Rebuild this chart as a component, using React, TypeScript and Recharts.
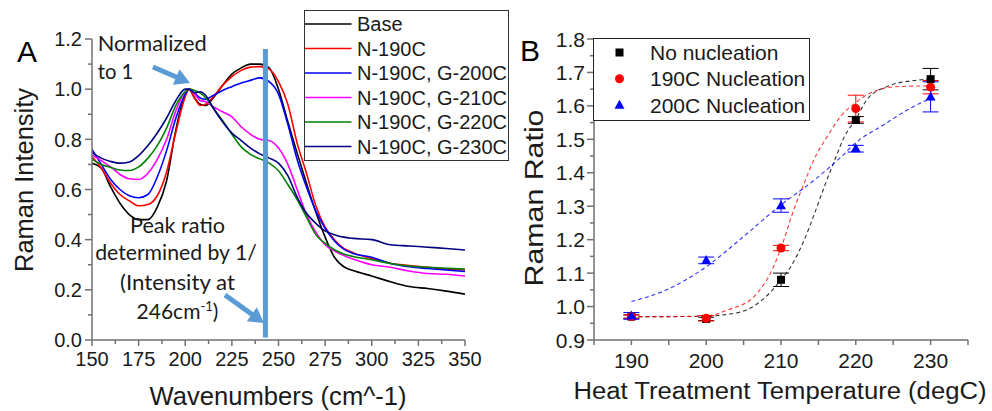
import React from 'react';
import { LineChart, Line, XAxis, YAxis, ReferenceLine, ComposedChart, Scatter, ErrorBar } from 'recharts';

// ---------- Panel A data ----------
const wavenumbers = [150,155,160,165,170,175,180,185,190,195,200,202,205,208,211,215,220,225,230,235,240,245,250,255,260,265,270,275,280,285,290,300,310,320,330,340,350];
const base =      [0.705,0.685,0.61,0.545,0.50,0.48,0.48,0.53,0.635,0.84,0.98,1.0,0.965,0.94,0.935,0.965,1.015,1.06,1.085,1.10,1.10,1.085,1.0,0.87,0.745,0.625,0.51,0.41,0.33,0.292,0.277,0.255,0.232,0.213,0.205,0.195,0.183];
const n190 =      [0.73,0.685,0.625,0.58,0.555,0.535,0.54,0.575,0.67,0.83,0.97,1.0,0.965,0.935,0.94,0.97,1.015,1.05,1.075,1.088,1.09,1.08,1.03,0.94,0.785,0.665,0.535,0.45,0.40,0.365,0.348,0.325,0.306,0.297,0.29,0.283,0.279];
const n190g200 =  [0.76,0.70,0.64,0.60,0.575,0.567,0.58,0.65,0.755,0.885,0.98,1.0,0.985,0.965,0.96,0.975,0.995,1.01,1.025,1.035,1.045,1.03,0.98,0.86,0.72,0.61,0.515,0.445,0.395,0.362,0.345,0.33,0.305,0.292,0.285,0.279,0.273];
const n190g210 =  [0.738,0.715,0.69,0.66,0.643,0.64,0.665,0.72,0.80,0.915,0.99,1.0,0.98,0.955,0.95,0.93,0.91,0.89,0.85,0.82,0.80,0.795,0.765,0.70,0.60,0.50,0.43,0.38,0.355,0.337,0.323,0.30,0.29,0.275,0.265,0.262,0.255];
const n190g220 =  [0.72,0.70,0.688,0.678,0.676,0.69,0.725,0.775,0.845,0.935,0.99,1.0,0.995,0.985,0.965,0.925,0.875,0.82,0.77,0.74,0.722,0.705,0.675,0.62,0.56,0.49,0.42,0.385,0.36,0.343,0.333,0.32,0.305,0.295,0.29,0.286,0.283];
const n190g230 =  [0.747,0.725,0.712,0.705,0.71,0.735,0.775,0.825,0.885,0.955,1.0,1.0,0.985,0.99,0.975,0.925,0.87,0.825,0.795,0.765,0.742,0.725,0.705,0.655,0.57,0.505,0.465,0.435,0.42,0.41,0.405,0.40,0.38,0.375,0.37,0.365,0.359];

const seriesNamesA = ['Base','N-190C','N-190C, G-200C','N-190C, G-210C','N-190C, G-220C','N-190C, G-230C'];
const seriesKeysA = ['base','n190','n190g200','n190g210','n190g220','n190g230'];
const seriesColorsA = ['#000000','#ff0000','#0000ff','#ff00ff','#008000','#000080'];

const xMajorA = [150,175,200,225,250,275,300,325,350];
const xMinorA = [162.5,187.5,212.5,237.5,262.5,287.5,312.5,337.5];
const yMajorA = [0,0.2,0.4,0.6,0.8,1.0,1.2];
const yMinorA = [0.1,0.3,0.5,0.7,0.9,1.1];
const markerLineX = 243;

// ---------- Panel B data ----------
const temps = [190,200,210,220,230];
const noNuc = [0.97,0.963,1.08,1.558,1.68];
const noNucErr = [0.005,0.005,0.02,0.01,0.032];
const nuc190 = [0.97,0.965,1.175,1.592,1.656];
const nuc190Err = [0.005,0.008,0.008,0.04,0.02];
const nuc200 = [0.972,1.138,1.302,1.472,1.627];
const nuc200Err = [0.01,0.01,0.02,0.01,0.045];

const fitNoNucX = [190,195,200,202.3,205.4,208,210,211.3,213.1,214.5,215.8,217.2,218.5,220,221.5,224.2,227.8,230];
const fitNoNucY = [0.97,0.97,0.971,0.975,0.99,1.03,1.08,1.119,1.199,1.279,1.359,1.439,1.509,1.56,1.619,1.658,1.676,1.68];
const fit190X = [190,195,200,202.9,206.4,209,210,211.7,213.1,214.4,216.2,218,220,222,225.1,230];
const fit190Y = [0.97,0.97,0.972,0.99,1.03,1.119,1.175,1.289,1.369,1.439,1.509,1.569,1.61,1.639,1.657,1.66];
const fit200X = [190,194.7,200,204.5,210,214.5,218.1,220,223.4,227,230];
const fit200Y = [1.015,1.05,1.119,1.2,1.304,1.379,1.449,1.49,1.539,1.589,1.623];

const seriesNamesB = ['No nucleation','190C Nucleation','200C Nucleation'];
const seriesColorsB = ['#000000','#ff0000','#0000ff'];

const xMajorB = [190,200,210,220,230];
const xMinorB = [185,195,205,215,225,235];
const yMajorB = [0.9,1.0,1.1,1.2,1.3,1.4,1.5,1.6,1.7,1.8];
const yMinorB = [0.95,1.05,1.15,1.25,1.35,1.45,1.55,1.65,1.75];

// ---------- helpers ----------
const FONT = '"Liberation Sans", Arial, sans-serif';
const ANNO_FONT = 'Lato, "Open Sans", sans-serif';
const AXIS = '#707070';
const ANNO = '#5b9bd5';

const rowsA = wavenumbers.map((w, i) => ({
  w, base: base[i], n190: n190[i], n190g200: n190g200[i], n190g210: n190g210[i], n190g220: n190g220[i], n190g230: n190g230[i],
}));
const pts = (ys: number[], es: number[]) => temps.map((x, i) => ({ x, y: ys[i], e: es[i] }));
const fit = (xs: number[], ys: number[]) => xs.map((x, i) => ({ x, y: ys[i] }));

const isIn = (arr: number[], v: number) => arr.some((m) => Math.abs(m - v) < 1e-6);

const makeYTick = (majors: number[], fontSize: number, labelGap: number) => (props: any) => {
  const { x, y, payload } = props;
  const v = payload.value;
  const major = isIn(majors, v);
  return (
    <g>
      <line x1={x} x2={x - (major ? 7 : 4)} y1={y} y2={y} stroke={AXIS} strokeWidth={1.5} />
      {major && (
        <text x={x - labelGap} y={y} dy="0.36em" textAnchor="end" fontSize={fontSize} fontFamily={FONT} fill="#1a1a1a">
          {v.toFixed(1)}
        </text>
      )}
    </g>
  );
};
const makeXTick = (majors: number[], fontSize: number, baseline: number, majorLen: number, minorLen: number) => (props: any) => {
  const { x, y, payload } = props;
  const v = payload.value;
  const major = isIn(majors, v);
  return (
    <g>
      <line x1={x} x2={x} y1={y} y2={y + (major ? majorLen : minorLen)} stroke={AXIS} strokeWidth={1.5} />
      {major && (
        <text x={x} y={y + baseline} textAnchor="middle" fontSize={fontSize} fontFamily={FONT} fill="#1a1a1a">
          {String(v)}
        </text>
      )}
    </g>
  );
};

const sq = (color: string, s = 8) => (p: any) => <rect x={p.cx - s / 2} y={p.cy - s / 2} width={s} height={s} fill={color} />;
const circ = (color: string, r = 4.5) => (p: any) => <circle cx={p.cx} cy={p.cy} r={r} fill={color} />;
const tri = (color: string, w = 10, h = 9) => (p: any) => (
  <polygon points={`${p.cx},${p.cy - h * 0.6} ${p.cx + w / 2},${p.cy + h * 0.4} ${p.cx - w / 2},${p.cy + h * 0.4}`} fill={color} />
);
const shapesB = [sq, circ, tri];

function arrowPts(x1: number, y1: number, x2: number, y2: number, shaft = 5, headLen = 15, headW = 17) {
  const dx = x2 - x1, dy = y2 - y1, L = Math.hypot(dx, dy);
  const ux = dx / L, uy = dy / L, nx = -uy, ny = ux;
  const bx = x2 - ux * headLen, by = y2 - uy * headLen;
  const s = shaft / 2, h = headW / 2;
  const p = [
    [x1 + nx * s, y1 + ny * s], [bx + nx * s, by + ny * s], [bx + nx * h, by + ny * h], [x2, y2],
    [bx - nx * h, by - ny * h], [bx - nx * s, by - ny * s], [x1 - nx * s, y1 - ny * s],
  ];
  return p.map((q) => q.join(',')).join(' ');
}

export default function App() {
  const yTickA = makeYTick(yMajorA, 20, 10);
  const xTickA = makeXTick(xMajorA, 20, 26, 6, 4);
  const yTickB = makeYTick(yMajorB, 21, 9);
  const xTickB = makeXTick(xMajorB, 21, 28, 5, 5);
  const dataB = [pts(noNuc, noNucErr), pts(nuc190, nuc190Err), pts(nuc200, nuc200Err)];
  const fitsB = [fit(fitNoNucX, fitNoNucY), fit(fit190X, fit190Y), fit(fit200X, fit200Y)];

  return (
    <div style={{ position: 'absolute', left: 0, top: 0, width: 992, height: 411, background: '#fff', overflow: 'hidden' }}>
      <div style={{ position: 'absolute', left: 0, top: 0 }}>
        <LineChart width={500} height={411} data={rowsA} margin={{ top: 39, right: 35, bottom: 41, left: 32 }}>
          <XAxis type="number" dataKey="w" domain={[150, 350]} allowDataOverflow ticks={[...xMajorA, ...xMinorA].sort((a, b) => a - b)} interval={0}
            tick={xTickA} tickSize={0} tickMargin={0} tickLine={false} axisLine={{ stroke: AXIS, strokeWidth: 1.5 }} height={30} />
          <YAxis type="number" domain={[0, 1.2]} allowDataOverflow ticks={[...yMajorA, ...yMinorA].sort((a, b) => a - b)} interval={0}
            tick={yTickA} tickSize={0} tickMargin={0} tickLine={false} axisLine={{ stroke: AXIS, strokeWidth: 1.5 }} width={60} />
          {seriesKeysA.map((k, i) => (
            <Line key={k} type="monotone" dataKey={k} name={seriesNamesA[i]} stroke={seriesColorsA[i]} strokeWidth={1.6} dot={false} isAnimationActive={false} />
          ))}
          <ReferenceLine segment={[{ x: markerLineX, y: 0.01 }, { x: markerLineX, y: 1.16 }]} stroke={ANNO} strokeWidth={5} />
        </LineChart>
      </div>
      <div style={{ position: 'absolute', left: 500, top: 0 }}>
        <ComposedChart width={492} height={411} margin={{ top: 39, right: 24, bottom: 41, left: 34 }}>
          <XAxis type="number" dataKey="x" domain={[185, 235]} allowDataOverflow ticks={[...xMajorB, ...xMinorB].sort((a, b) => a - b)} interval={0}
            tick={xTickB} tickSize={0} tickMargin={0} tickLine={false} axisLine={{ stroke: AXIS, strokeWidth: 1.5 }} height={30} />
          <YAxis type="number" dataKey="y" domain={[0.9, 1.8]} allowDataOverflow ticks={[...yMajorB, ...yMinorB].sort((a, b) => a - b)} interval={0}
            tick={yTickB} tickSize={0} tickMargin={0} tickLine={false} axisLine={{ stroke: AXIS, strokeWidth: 1.5 }} width={60} />
          {fitsB.map((f, i) => (
            <Line key={'fit' + i} data={f} dataKey="y" type="monotone" stroke={seriesColorsB[i]} strokeOpacity={0.8} strokeWidth={1.1}
              strokeDasharray="4 3" dot={false} isAnimationActive={false} legendType="none" />
          ))}
          {dataB.map((d, i) => (
            <Scatter key={'pts' + i} data={d} dataKey="y" name={seriesNamesB[i]} fill={seriesColorsB[i]} shape={shapesB[i](seriesColorsB[i])} isAnimationActive={false}>
              <ErrorBar dataKey="e" direction="y" width={8} stroke={seriesColorsB[i]} strokeWidth={1} />
            </Scatter>
          ))}
        </ComposedChart>
      </div>
      <svg width={992} height={411} style={{ position: 'absolute', left: 0, top: 0, pointerEvents: 'none' }}>
        {/* panel letters */}
        <text x={17} y={61.5} fontSize={30} fontFamily={FONT} fill="#000">A</text>
        <text x={520} y={61} fontSize={30} fontFamily={FONT} fill="#000">B</text>
        {/* axis titles */}
        <text x={278} y={405} textAnchor="middle" fontSize={26} fontFamily={FONT} fill="#1a1a1a" textLength={257} lengthAdjust="spacingAndGlyphs">Wavenumbers (cm^-1)</text>
        <text transform="translate(33,180) rotate(-90)" textAnchor="middle" fontSize={26} fontFamily={FONT} fill="#1a1a1a" textLength={184} lengthAdjust="spacingAndGlyphs">Raman Intensity</text>
        <text x={780} y={399} textAnchor="middle" fontSize={23} fontFamily={FONT} fill="#1a1a1a" textLength={413} lengthAdjust="spacingAndGlyphs">Heat Treatment Temperature (degC)</text>
        <text transform="translate(543,198) rotate(-90)" textAnchor="middle" fontSize={25} fontFamily={FONT} fill="#1a1a1a" textLength={177} lengthAdjust="spacingAndGlyphs">Raman Ratio</text>
        {/* annotations */}
        <text x={97.7} y={51} fontSize={21} fontFamily={ANNO_FONT} fill="#1a1a1a" textLength={109} lengthAdjust="spacingAndGlyphs">Normalized</text>
        <text x={97.7} y={79.3} fontSize={21} fontFamily={ANNO_FONT} fill="#1a1a1a" textLength={35.6} lengthAdjust="spacingAndGlyphs">to 1</text>
        <polygon points={arrowPts(153, 67, 190, 83)} fill={ANNO} />
        <text x={177.5} y={233} textAnchor="middle" fontSize={21} fontFamily={ANNO_FONT} fill="#1a1a1a" textLength={95} lengthAdjust="spacingAndGlyphs">Peak ratio</text>
        <text x={176} y={259.5} textAnchor="middle" fontSize={21} fontFamily={ANNO_FONT} fill="#1a1a1a" textLength={161.7} lengthAdjust="spacingAndGlyphs">determined by 1/</text>
        <text x={177.5} y={289.5} textAnchor="middle" fontSize={21} fontFamily={ANNO_FONT} fill="#1a1a1a" textLength={115} lengthAdjust="spacingAndGlyphs">(Intensity at</text>
        <text x={177.5} y={318.5} textAnchor="middle" fontSize={21} fontFamily={ANNO_FONT} fill="#1a1a1a">
          246cm<tspan fontSize={13} dy={-8}>-1</tspan><tspan dy={8}>)</tspan>
        </text>
        <polygon points={arrowPts(225, 295, 264, 323)} fill={ANNO} />
        {/* legend A */}
        <rect x={304.5} y={10.5} width={204} height={150} fill="#fff" stroke="#333" strokeWidth={1} />
        {seriesNamesA.map((n, i) => {
          const cy = 24 + i * 24.5;
          return (
            <g key={n}>
              <line x1={305} x2={351.5} y1={cy} y2={cy} stroke={seriesColorsA[i]} strokeWidth={1.6} />
              <text x={357} y={cy + 7} fontSize={20} fontFamily={FONT} fill="#1a1a1a">{n}</text>
            </g>
          );
        })}
        {/* legend B */}
        <rect x={593.5} y={38.5} width={216} height={82} fill="#fff" stroke="#222" strokeWidth={1} />
        {seriesNamesB.map((n, i) => {
          const cy = 52.5 + i * 26.3;
          return (
            <g key={n}>
              {shapesB[i](seriesColorsB[i])({ cx: 619.5, cy })}
              <text x={650} y={cy + 7.5} fontSize={21} fontFamily={FONT} fill="#1a1a1a">{n}</text>
            </g>
          );
        })}
      </svg>
    </div>
  );
}
